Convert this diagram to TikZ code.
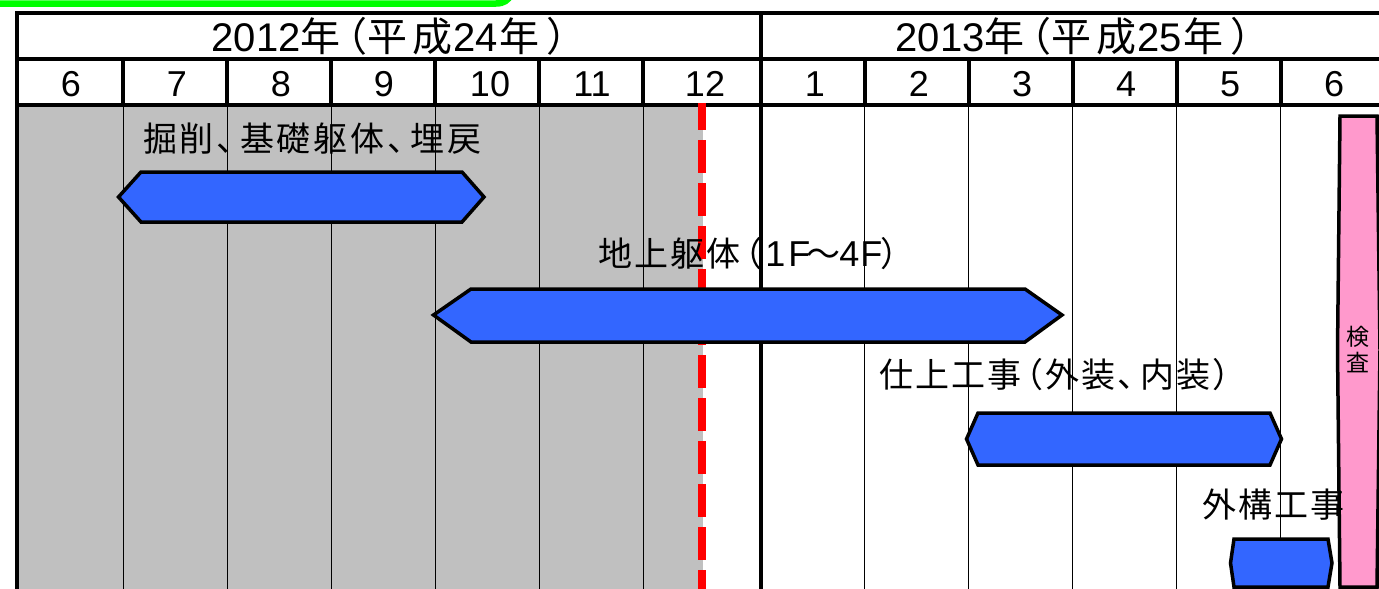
\documentclass[tikz,border=0pt]{standalone}
\usepackage{fontspec}
\setmainfont{Liberation Sans}
\newfontfamily\jp{Noto Sans CJK JP}
\newfontfamily\jpsp[LetterSpace=6]{Noto Sans CJK JP}
\newfontfamily\jpwide[LetterSpace=8]{Noto Sans CJK JP}
\newcommand{\lat}[1]{{\fontspec{Liberation Sans}\fontsize{36}{36}\selectfont #1}}
\newcommand{\opn}{\hspace*{-12pt}（}
\newcommand{\ten}{、\hspace*{-11pt}}
\newcommand{\yeartext}[2]{#1{\jp 年\hspace*{-13pt}（平\hspace*{5pt}成\hspace*{1pt}}#2{\hspace*{1pt}\jp 年\hspace*{7pt}）}}
\definecolor{barblue}{HTML}{3366FF}
\definecolor{barpink}{HTML}{FF99CC}
\definecolor{pastgray}{HTML}{C0C0C0}
\definecolor{topgreen}{HTML}{00FF00}
\tikzset{
  thickrule/.style={line width=4pt,black},
  thinrule/.style={line width=1pt,black},
  barshape/.style={draw=black,line width=3.5pt,fill=barblue,line join=miter,miter limit=2},
  hdryear/.style={anchor=base west,inner sep=0pt,font=\fontsize{40}{40}\selectfont},
  hdrmonth/.style={anchor=base,inner sep=0pt,font=\fontsize{36}{36}\selectfont},
  tasklabel/.style={anchor=base west,inner sep=0pt,font=\fontsize{34}{34}\selectfont\jpsp},
  vlabel/.style={inner sep=0pt,font=\fontsize{23}{23}\selectfont\jp},
}
\begin{document}
\begin{tikzpicture}[x=1pt,y=-1pt]
\useasboundingbox (0,0) rectangle (1379,589);
\fill[white] (0,0) rectangle (1379,589);
% top green
\draw[topgreen,line width=6.5pt,line cap=round] (-5,3.5) -- (496,3.5) .. controls (504,3.5) and (508,0) .. (511,-5);
% past period
\fill[pastgray] (16,105) rectangle (703,589);
% thin month lines
\foreach \x in {123.4,227.4,331.4,435.4,539.4,643.2,864.8,968.7,1072.7,1176.5,1280.5}
  \draw[thinrule] (\x,105) -- (\x,589);
% header rules
\draw[thickrule] (15,13) -- (1379,13);
\draw[thickrule] (15,59) -- (1379,59);
\draw[thickrule] (15,105) -- (1379,105);
\draw[thickrule] (16.8,11) -- (16.8,589);
\draw[thickrule] (760.7,11) -- (760.7,589);
\foreach \x in {123.4,227.4,331.4,435.4,539.4,643.2,864.8,968.7,1072.7,1176.5,1280.5}
  \draw[thickrule] (\x,59) -- (\x,105);
% today line
\draw[red,line width=8pt,dash pattern=on 33pt off 10pt,dash phase=6pt] (702,103) -- (702,589);
% header text
\node[hdryear] (y12) at (211.5,51) {\yeartext{2012}{24}};
\node[hdryear] (y13) at (895.5,51) {\yeartext{2013}{25}};
\foreach \n/\x/\t in {a/71/6,b/177/7,c/281/8,d/384/9,e/490/10,f/592/11,g/705/12,h/815/1,i/919/2,j/1022/3,k/1126/4,l/1230/5,m/1334/6}
  \node[hdrmonth] (mon\n) at (\x,96) {\t};
% bars
\draw[barshape] (118.5,197) -- (141,172) -- (462,172) -- (484,197) -- (462,222) -- (141,222) -- cycle;
\draw[barshape] (433.5,315) -- (471,289) -- (1025,289) -- (1062,315) -- (1025,342) -- (471,342) -- cycle;
\draw[barshape] (966.5,439) -- (978,413) -- (1270,413) -- (1281.5,439) -- (1270,465) -- (978,465) -- cycle;
\draw[barshape] (1230.5,563) -- (1234,539) -- (1328,539) -- (1332,563) -- (1328,587) -- (1234,587) -- cycle;
\draw[barshape,fill=barpink] (1340,116) -- (1377,116) -- (1380,350) -- (1377,587) -- (1340,587) -- (1337.5,350) -- cycle;
% labels
\node[vlabel] (kensa1) at (1358,337) {検};
\node[vlabel] (kensa2) at (1358,363) {査};
\node[tasklabel,font=\fontsize{34}{34}\selectfont\jpwide] (t1) at (143,151) {掘削、\hspace*{-10.5pt}基礎躯体、\hspace*{-10.5pt}埋戻};
\node[tasklabel] (t2) at (598,266) {地上躯体\opn\hspace*{3pt}\lat{1\hspace*{3pt}F}\hspace*{-4pt}～\hspace*{-1pt}\lat{4\hspace*{1pt}F}\hspace*{-2pt}）};
\node[tasklabel] (t3) at (879,387) {仕上工事\opn 外装\ten 内装）};
\node[tasklabel] (t4) at (1202,517) {外構工事};
\end{tikzpicture}
\end{document}
